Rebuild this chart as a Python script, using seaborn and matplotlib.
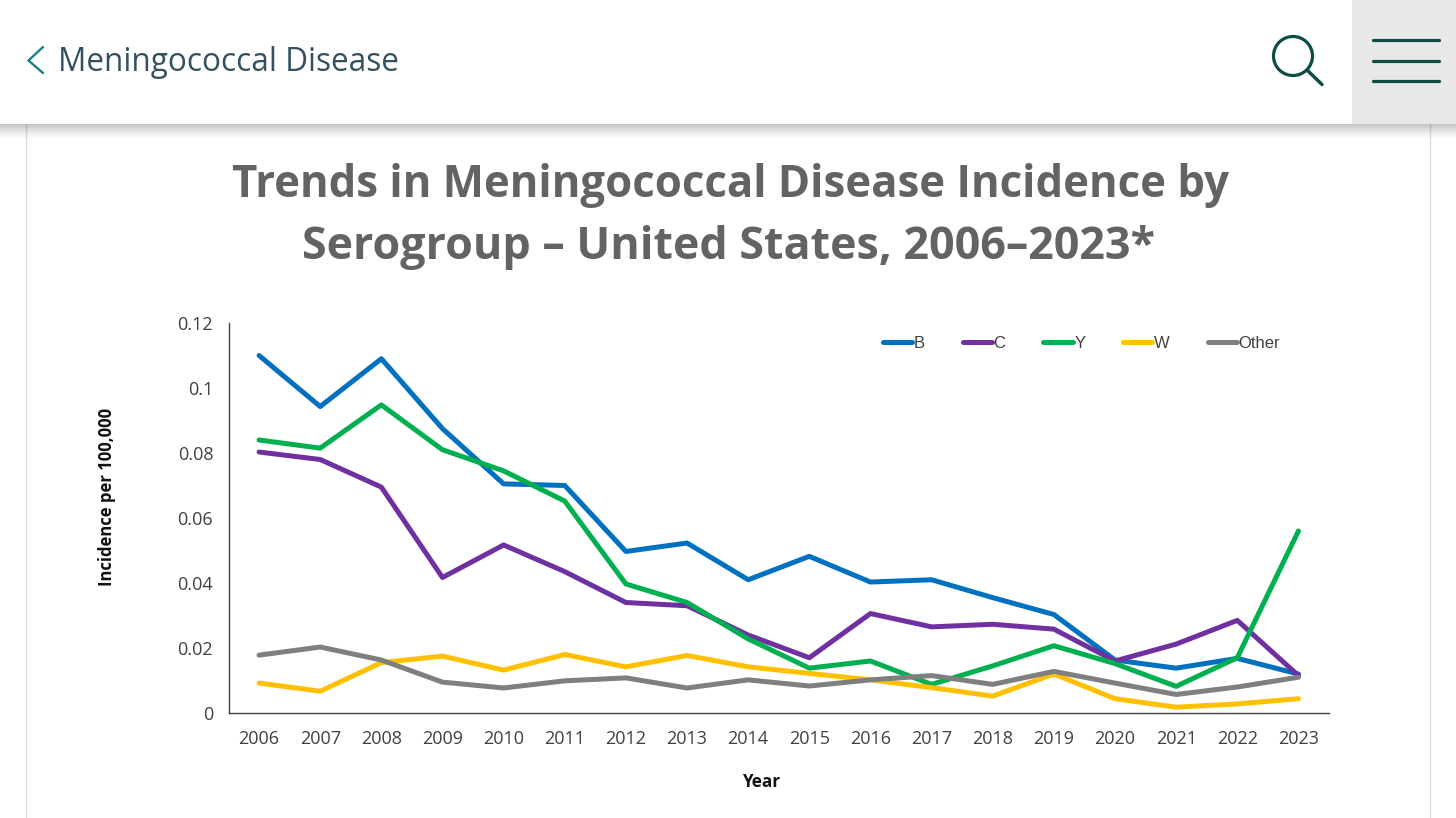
import numpy as np
import pandas as pd
import matplotlib
matplotlib.use('Agg')
import matplotlib.pyplot as plt
from matplotlib.patches import Rectangle, Circle
import seaborn as sns

years = list(range(2006, 2024))
b_vals = [.110, .0943, .109, .0875, .0705, .070, .0497, .0523, .041, .0482, .0403, .041, .0355, .0303, .0163, .0138, .0168, .012]
c_vals = [.0803, .078, .0695, .0417, .0517, .0435, .034, .033, .024, .017, .0306, .0265, .0273, .0258, .016, .0212, .0285, .0115]
y_vals = [.084, .0815, .0948, .081, .0745, .0652, .0397, .034, .0228, .0138, .016, .0088, .0145, .0207, .0152, .0082, .017, .056]
w_vals = [.0092, .0067, .0155, .0175, .0132, .018, .0142, .0177, .0142, .0122, .0102, .0078, .0052, .012, .0044, .0018, .0028, .0044]
other_vals = [.0178, .0203, .0163, .0095, .0077, .0099, .0108, .0077, .0102, .0083, .0102, .0115, .0088, .0128, .0092, .0057, .008, .011]
y_ticks = [0, .02, .04, .06, .08, .1, .12]
y_tick_labels = ['0', '0.02', '0.04', '0.06', '0.08', '0.1', '0.12']
colors = {'B': '#0070C0', 'C': '#7030A0', 'Y': '#00B050', 'W': '#FFC000', 'Other': '#7F7F7F'}

W, H = 1456, 818
sns.set_theme(style='white')
plt.rcParams['font.family'] = ['Open Sans', 'DejaVu Sans']

df = pd.DataFrame({'Year': years, 'B': b_vals, 'C': c_vals, 'Y': y_vals, 'W': w_vals, 'Other': other_vals})
long_df = df.melt(id_vars='Year', var_name='serogroup', value_name='incidence')

fig = plt.figure(figsize=(W / 100, H / 100), dpi=100, facecolor='white')

# page furniture, in pixel coordinates
page = fig.add_axes([0, 0, 1, 1], zorder=0)
page.set_xlim(0, W)
page.set_ylim(H, 0)
page.axis('off')
page.plot([26, 26], [124, H], color='#DDDDDD', lw=1)
page.plot([1430, 1430], [124, H], color='#DDDDDD', lw=1)

# the chart
ax = fig.add_axes([228.5 / W, 1 - 713 / H, (1329 - 228.5) / W, 390 / H], zorder=1)
ax.patch.set_alpha(0)
sns.lineplot(data=long_df, x='Year', y='incidence', hue='serogroup', palette=colors,
             linewidth=3.6, ax=ax, solid_capstyle='round', errorbar=None)
ax.set_xlim(2005.5, 2023.5)
ax.set_ylim(0, .12)
ax.set_xticks(years)
ax.set_xticklabels(years, fontsize=13, color='#404040')
ax.set_yticks(y_ticks)
ax.set_yticklabels(y_tick_labels, fontsize=13, color='#404040')
ax.tick_params(axis='x', length=0, pad=12)
ax.tick_params(axis='y', length=0, pad=11)
ax.spines['top'].set_visible(False)
ax.spines['right'].set_visible(False)
for side in ['left', 'bottom']:
    ax.spines[side].set_color('#404040')
    ax.spines[side].set_linewidth(1)
ax.set_xlabel('Year', fontsize=12.3, fontweight='bold', color='#111111')
ax.set_ylabel('Incidence per 100,000', fontsize=12, fontweight='bold', color='#111111')
ax.xaxis.set_label_coords((761 - 228.5) / 1100.5, -(782 - 713) / 390, transform=ax.transAxes)
ax.yaxis.set_label_coords((107 - 228.5) / 1100.5, (713 - 497) / 390, transform=ax.transAxes)
ax.xaxis.label.set_verticalalignment('center')
ax.yaxis.label.set_verticalalignment('center')

leg = ax.legend(loc='upper left', bbox_to_anchor=((883 - 228.5) / 1100.5, 1 - 13 / 390), ncol=5,
                frameon=False, handlelength=1.75, handletextpad=0.1, columnspacing=2.27, borderpad=0,
                borderaxespad=0, prop={'family': 'Liberation Sans', 'size': 12})
for t in leg.get_texts():
    t.set_color('#404040')

page.text(730, 186, 'Trends in Meningococcal Disease Incidence by', ha='center', va='center',
          fontsize=31.5, fontweight='bold', color='#636363')
page.text(729, 248, 'Serogroup – United States, 2006–2023*', ha='center', va='center',
          fontsize=32.3, fontweight='bold', color='#636363')

# header bar drawn over everything
head = fig.add_axes([0, 0, 1, 1], zorder=2)
head.set_xlim(0, W)
head.set_ylim(H, 0)
head.axis('off')
head.patch.set_alpha(0)
shadow = np.linspace(0.32, 0, 20).reshape(-1, 1) ** 1.3
head.imshow(np.dstack([np.zeros((20, 1, 3)), shadow]), extent=[0, W, 140, 124], aspect='auto', interpolation='bilinear')
head.set_xlim(0, W)
head.set_ylim(H, 0)
head.add_patch(Rectangle((0, 0), W, 124, color='white', lw=0))
head.add_patch(Rectangle((1352, 0), 104, 124, color='#E8E8E8', lw=0))
head.plot([43, 28.5, 43], [47, 60.5, 73], color='#17808A', lw=1.7, solid_joinstyle='miter')
head.text(58, 62.5, 'Meningococcal Disease', ha='left', va='center', fontsize=22.7, color='#33505E')
head.add_patch(Circle((1293, 56), 19.5, fill=False, ec='#0F4C46', lw=2.3))
head.plot([1307, 1322], [70, 84.5], color='#0F4C46', lw=2.5, solid_capstyle='round')
for yy in [40, 60.5, 81]:
    head.plot([1373, 1439], [yy, yy], color='#0F4C46', lw=2.3, solid_capstyle='round')

fig.savefig('out.png', dpi=100)
